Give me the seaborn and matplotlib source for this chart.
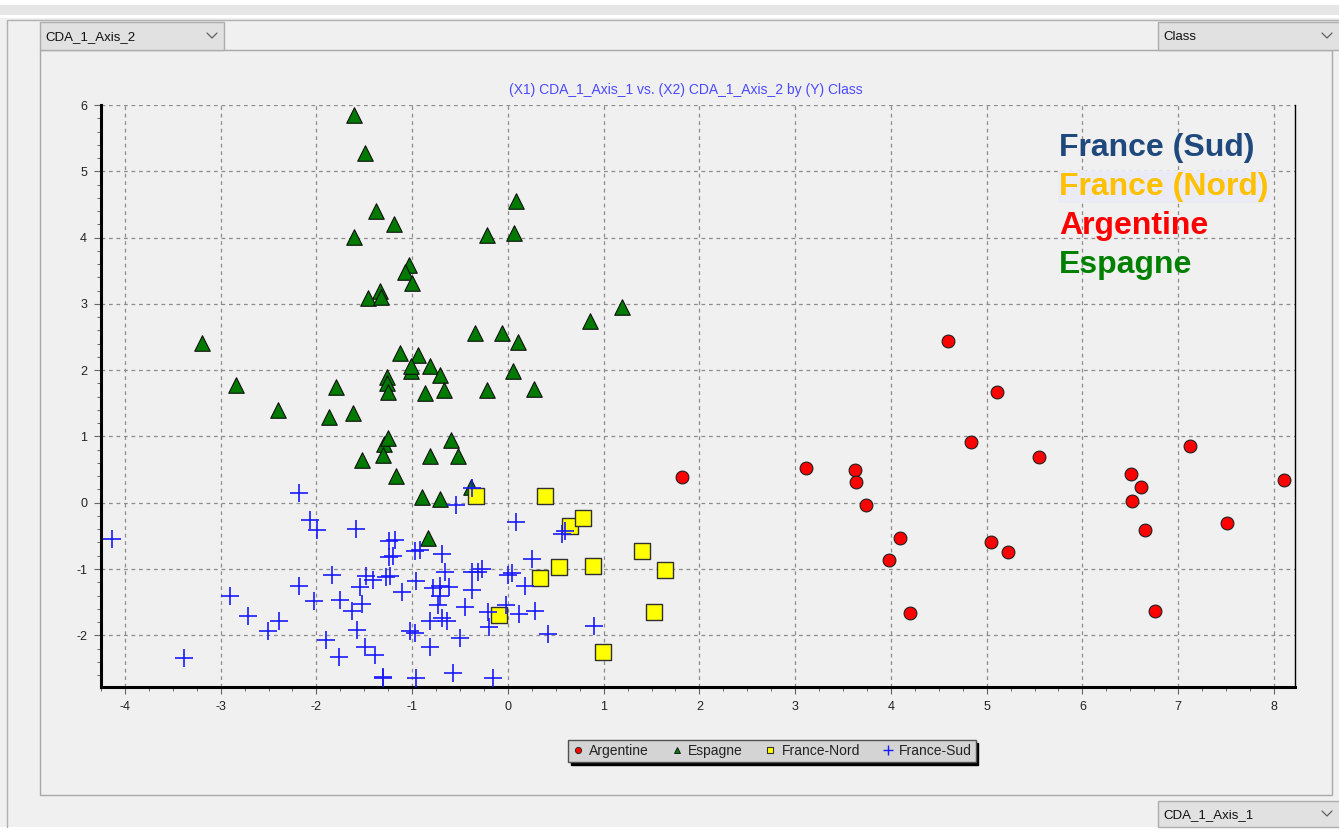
import matplotlib
matplotlib.use("Agg")
import matplotlib.pyplot as plt
import pandas as pd
import seaborn as sns
from matplotlib.patches import Rectangle
from matplotlib.lines import Line2D
from matplotlib.ticker import MultipleLocator

W, H = 1339, 834

# Data
argentine_x = [1.82, 3.11, 3.62, 3.64, 3.74, 4.60, 4.84, 5.11, 3.98, 4.09, 4.20, 5.05, 5.22,
               5.55, 6.51, 6.61, 6.52, 6.65, 6.76, 7.12, 7.51, 8.11]
argentine_y = [0.39, 0.53, 0.50, 0.32, -0.03, 2.44, 0.92, 1.67, -0.87, -0.53, -1.66, -0.60, -0.74,
               0.69, 0.44, 0.23, 0.03, -0.41, -1.63, 0.86, -0.30, 0.35]

espagne_x = [-1.61, -1.49, -1.38, -1.19, -1.61, 0.08, 0.06, -0.22, -1.03, -1.07, -1.00, -1.34,
             -1.46, -1.33, -3.19, -2.84, -2.40, -1.87, -1.80, -1.62, -1.52, -1.13, -0.94, -1.26,
             -1.26, -1.25, -1.01, -1.01, -0.81, -0.71, -0.87, -0.67, -0.34, -0.06, 0.11, 0.05,
             0.27, -0.22, 0.86, 1.19, -1.29, -1.25, -1.31, -1.17, -0.59, -0.52, -0.81, -0.90,
             -0.71, -0.39, -0.84]
espagne_y = [5.85, 5.28, 4.40, 4.21, 4.01, 4.55, 4.07, 4.04, 3.59, 3.48, 3.32, 3.20,
             3.09, 3.11, 2.41, 1.78, 1.40, 1.30, 1.75, 1.36, 0.65, 2.26, 2.23, 1.90,
             1.81, 1.67, 1.98, 2.07, 2.07, 1.93, 1.66, 1.70, 2.56, 2.56, 2.43, 1.98,
             1.72, 1.70, 2.74, 2.96, 0.89, 0.98, 0.72, 0.41, 0.95, 0.71, 0.71, 0.09,
             0.06, 0.23, -0.53]

nord_x = [-0.33, 0.39, 0.65, 0.78, 1.40, 1.64, 0.89, 0.53, 0.33, -0.09, 1.53, 0.99]
nord_y = [0.10, 0.10, -0.35, -0.23, -0.73, -1.01, -0.95, -0.97, -1.14, -1.69, -1.65, -2.25]

sud_x = [-2.18, -2.07, -1.99, -1.59, -4.14, -1.24, -1.24, -1.27, -1.84, -1.48, -1.41, -1.55,
         -2.18, -2.03, -1.75, -1.63, -1.52, -2.90, -2.71, -2.51, -2.39, -1.90, -1.58, -1.49,
         -1.39, -1.76, -1.31, -3.38,
         -0.38, -0.54, 0.08, 0.60, 0.56, -1.18, -1.20, -0.97, -0.92, -0.69, 0.25, -1.23,
         -0.96, -0.66, -0.38, -0.31, -0.27, 0.00, 0.04, 0.18, -1.11, -0.78, -0.71, -0.62,
         -0.38, -0.73, -0.71, -0.45, -0.21, -0.02, 0.12, 0.28, -0.81, -0.69, -0.64, -1.02,
         -0.97, -0.50, -0.20, 0.42, 0.90, -0.81, -1.30, -0.96, -0.57, -0.16]
sud_y = [0.15, -0.26, -0.41, -0.39, -0.55, -0.57, -0.82, -1.12, -1.09, -1.10, -1.16, -1.27,
         -1.25, -1.49, -1.47, -1.64, -1.53, -1.40, -1.71, -1.94, -1.79, -2.07, -1.92, -2.17,
         -2.29, -2.33, -2.64, -2.34,
         0.22, -0.04, -0.29, -0.43, -0.47, -0.56, -0.81, -0.73, -0.72, -0.78, -0.85, -1.11,
         -1.18, -1.05, -1.05, -1.04, -1.00, -1.09, -1.06, -1.26, -1.35, -1.29, -1.26, -1.27,
         -1.31, -1.54, -1.41, -1.58, -1.65, -1.54, -1.68, -1.64, -1.79, -1.74, -1.79, -1.94,
         -1.97, -2.04, -1.87, -1.98, -1.86, -2.17, -2.63, -2.65, -2.57, -2.64]

classes = ["Argentine", "Espagne", "France-Nord", "France-Sud"]
class_x = [argentine_x, espagne_x, nord_x, sud_x]
class_y = [argentine_y, espagne_y, nord_y, sud_y]

annot_labels = ["France (Sud)", "France (Nord)", "Argentine", "Espagne"]
annot_colors = ["#1f497d", "#ffc000", "#ff0000", "#008000"]

title = "(X1) CDA_1_Axis_1 vs. (X2) CDA_1_Axis_2 by (Y) Class"

df = pd.concat([pd.DataFrame({"x": xs, "y": ys, "Class": c})
                for c, xs, ys in zip(classes, class_x, class_y)], ignore_index=True)

styles = {
    "Argentine": dict(marker="o", s=85, color="#ff0000", edgecolor="#202020", linewidth=0.8),
    "Espagne": dict(marker="^", s=125, color="#007a00", edgecolor="#101010", linewidth=0.8),
    "France-Nord": dict(marker="s", s=135, color="#ffff00", edgecolor="#303030", linewidth=1.0),
    "France-Sud": dict(marker="+", s=180, color="#1a1aff", linewidth=1.2),
}

sns.set_theme(style="white")
plt.rcParams["font.family"] = ["Liberation Sans", "DejaVu Sans"]
plt.rcParams["axes.unicode_minus"] = False

fig = plt.figure(figsize=(W / 100, H / 100), dpi=100, facecolor="#f0f0f0")


def frect(x0, y0, x1, y1, **kw):
    fig.patches.append(Rectangle((x0 / W, 1 - y1 / H), (x1 - x0) / W, (y1 - y0) / H,
                                 transform=fig.transFigure, **kw))


def fline(xs, ys, **kw):
    fig.add_artist(Line2D([x / W for x in xs], [1 - y / H for y in ys],
                          transform=fig.transFigure, **kw))


# window chrome
frect(0, 0, W, 5, facecolor="white", edgecolor="none", zorder=-1)
frect(0, 5, W, 15, facecolor="#e6e6e6", edgecolor="none", zorder=-1)
frect(0, 15, W, 18, facecolor="white", edgecolor="none", zorder=-1)
frect(0, 827, W, H, facecolor="white", edgecolor="none", zorder=-1)
fline([7, 7, W], [827, 20, 20], color="#b0b0b0", lw=1)
frect(40, 50, 1332, 795, facecolor="none", edgecolor="#a8a8a8", lw=1)

for (x0, y0, x1, y1, txt) in [(40, 22, 224, 50, "CDA_1_Axis_2"),
                              (1158, 22, 1345, 50, "Class"),
                              (1158, 801, 1345, 827, "CDA_1_Axis_1")]:
    frect(x0, y0, x1, y1, facecolor="#e1e1e1", edgecolor="#adadad", lw=1)
    cy = (y0 + y1) / 2
    fig.text((x0 + 5) / W, 1 - (cy + 1) / H, txt, fontsize=9.5, color="#111111",
             ha="left", va="center")
    cx = min(x1, W) - 12
    fline([cx - 5, cx, cx + 5], [cy - 3, cy + 2, cy - 3], color="#606060", lw=0.9)

# plot
ax = fig.add_axes([101 / W, 1 - 687 / H, (1295 - 101) / W, (687 - 105) / H])
ax.set_facecolor("#f0f0f0")

for c in classes:
    sub = df[df["Class"] == c]
    sns.scatterplot(data=sub, x="x", y="y", ax=ax, legend=False, zorder=3, **styles[c])

ax.set_xlim(-4.25, 8.22)
ax.set_ylim(-2.78, 6.0)
ax.set_xticks(range(-4, 9))
ax.set_yticks(range(-2, 7))
ax.xaxis.set_minor_locator(MultipleLocator(0.25))
ax.yaxis.set_minor_locator(MultipleLocator(0.2))
ax.grid(True, which="major", linestyle=(0, (3, 3)), color="#8c8c8c", linewidth=0.9)
ax.set_axisbelow(True)
ax.set_xlabel("")
ax.set_ylabel("")

for side in ["left", "bottom"]:
    ax.spines[side].set_linewidth(2.2)
    ax.spines[side].set_color("black")
ax.spines["right"].set_linewidth(1.0)
ax.spines["right"].set_color("black")
ax.spines["top"].set_visible(False)

ax.tick_params(which="both", bottom=True, left=True, top=False, right=False,
               direction="out", color="#666666")
ax.tick_params(which="major", length=5, width=0.8, labelsize=9, labelcolor="#222222", pad=5)
ax.tick_params(which="minor", length=3, width=0.7)

fig.text(686 / W, 1 - 90 / H, title, fontsize=10, color="#4a4aff", ha="center", va="center")

for i, (lab, col) in enumerate(zip(annot_labels, annot_colors)):
    t = fig.text(1059 / W, 1 - (148 + 39 * i) / H, lab, fontsize=23, fontweight="bold",
                 color=col, ha="left", va="center")
    if lab == "France (Nord)":
        t.set_bbox(dict(facecolor="#ebebf5", edgecolor="none", pad=1))

# legend
handles = [
    Line2D([], [], ls="none", marker="o", markersize=4.5, markerfacecolor="#ff0000",
           markeredgecolor="#202020", markeredgewidth=0.6),
    Line2D([], [], ls="none", marker="^", markersize=5, markerfacecolor="#007a00",
           markeredgecolor="#101010", markeredgewidth=0.6),
    Line2D([], [], ls="none", marker="s", markersize=5, markerfacecolor="#ffff00",
           markeredgecolor="#303030", markeredgewidth=0.8),
    Line2D([], [], ls="none", marker="+", markersize=7, color="#1a1aff", markeredgewidth=1.0),
]
leg = fig.legend(handles, classes, loc="center", bbox_to_anchor=(772 / W, 1 - 751 / H),
                 ncol=4, fontsize=10, frameon=True, fancybox=False,
                 shadow={"color": "black", "alpha": 1.0},
                 handlelength=0.8, handletextpad=0.4, columnspacing=1.6,
                 borderpad=0.3, borderaxespad=0)
leg.get_frame().set_facecolor("#d4d4d4")
leg.get_frame().set_edgecolor("#505050")
leg.get_frame().set_linewidth(1.0)
leg.get_frame().set_alpha(1.0)
for t in leg.get_texts():
    t.set_color("#222222")

fig.savefig("out.png", dpi=100, facecolor=fig.get_facecolor())
